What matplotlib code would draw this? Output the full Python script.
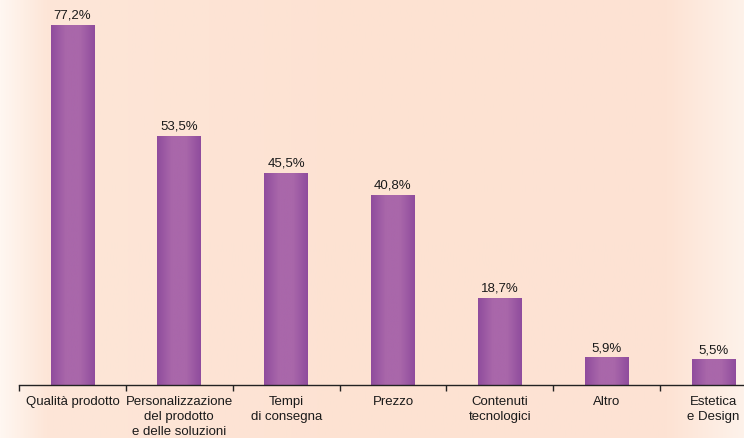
import numpy as np
import matplotlib.pyplot as plt
from matplotlib.colors import LinearSegmentedColormap

plt.rcParams['font.family'] = ['Liberation Sans', 'DejaVu Sans']

categories = ["Qualità prodotto",
              "Personalizzazione\ndel prodotto\ne delle soluzioni",
              "Tempi\ndi consegna",
              "Prezzo",
              "Contenuti\ntecnologici",
              "Altro",
              "Estetica\ne Design"]
values = [77.2, 53.5, 45.5, 40.8, 18.7, 5.9, 5.5]
labels = ["77,2%", "53,5%", "45,5%", "40,8%", "18,7%", "5,9%", "5,5%"]

W, H = 744, 439
fig = plt.figure(figsize=(W / 100, H / 100), dpi=100)

# peach background, lighter towards the left and right edges
bg = fig.add_axes([0, 0, 1, 1], zorder=0)
bg_cmap = LinearSegmentedColormap.from_list(
    "bg", [(0.0, "#fff7f1"), (0.06, "#fde6d8"), (0.5, "#fde2d2"),
           (0.9, "#fde3d4"), (1.0, "#fef2ea")])
bg.imshow(np.linspace(0, 1, 256)[None, :], aspect="auto", cmap=bg_cmap,
          extent=[0, 1, 0, 1])
bg.set_axis_off()

# axes run past the right edge, so the last category is cut off
x0, x1 = 19, 767
y0 = H - 386
ppu = 360 / 77.2
ymax = 84
ax = fig.add_axes([x0 / W, y0 / H, (x1 - x0) / W, ymax * ppu / H], zorder=1)
ax.patch.set_alpha(0)

x = np.arange(len(values))
bars = ax.bar(x, values, width=0.41, color="none", edgecolor="none")

bar_cmap = LinearSegmentedColormap.from_list(
    "bar", ["#8f4c9d", "#a967aa", "#a967aa", "#8f4c9d"])
grad = np.linspace(0, 1, 128)[None, :]
for b in bars:
    im = ax.imshow(grad, aspect="auto", cmap=bar_cmap,
                   extent=[b.get_x(), b.get_x() + b.get_width(), 0, b.get_height()],
                   zorder=2)
    im.set_clip_path(b)

for xi, v, lab in zip(x, values, labels):
    ax.text(xi, v + 0.9, lab, ha="center", va="bottom", fontsize=9.5,
            color="#1a1a1a")

ax.set_xlim(-0.5, len(values) - 0.5)
ax.set_ylim(0, ymax)

for s in ["top", "right", "left"]:
    ax.spines[s].set_visible(False)
ax.spines["bottom"].set_color("#222222")
ax.spines["bottom"].set_linewidth(1.0)

ax.set_yticks([])
ax.set_xticks(np.arange(len(values) + 1) - 0.5, minor=False)
ax.set_xticklabels([])
ax.tick_params(axis="x", direction="out", length=4, width=1, color="#222222")
ax.set_xticks(x, minor=True)
ax.set_xticklabels(categories, minor=True, fontsize=9.5, color="#1a1a1a",
                   linespacing=1.36)
ax.tick_params(axis="x", which="minor", length=0, pad=7)

fig.savefig("out.png", dpi=100)
